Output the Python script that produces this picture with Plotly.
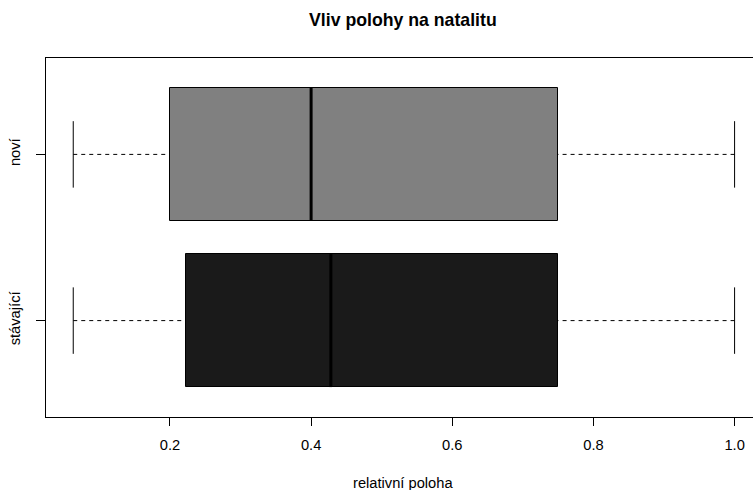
import plotly.graph_objects as go

# Five-number summaries of relative position by group
groups = ["stávající", "noví"]
positions = [1, 2]
lower_whisker = [0.063, 0.063]
q1 = [0.2227, 0.2]
median = [0.428, 0.4]
q3 = [0.75, 0.75]
upper_whisker = [1.0, 1.0]
fill_colors = ["#1a1a1a", "#808080"]

x_ticks = [0.2, 0.4, 0.6, 0.8, 1.0]
x_tick_text = ["0.2", "0.4", "0.6", "0.8", "1.0"]

box_width = 0.8
staple_half = box_width / 4
font_family = "Liberation Sans, Arial, sans-serif"

fig = go.Figure()

# Boxes (Q1..Q3)
fig.add_trace(go.Bar(
    y=positions,
    x=[b - a for a, b in zip(q1, q3)],
    base=q1,
    orientation="h",
    width=box_width,
    marker=dict(color=fill_colors, line=dict(color="black", width=1)),
    hoverinfo="skip",
    showlegend=False,
))

for i, pos in enumerate(positions):
    # dashed whiskers, drawn from the staple toward the box
    for a, b in [(lower_whisker[i], q1[i]), (upper_whisker[i], q3[i])]:
        fig.add_trace(go.Scatter(
            x=[a, b], y=[pos, pos], mode="lines",
            line=dict(color="black", width=1, dash="4px,4px"),
            hoverinfo="skip", showlegend=False,
        ))
    # staples
    for w in [lower_whisker[i], upper_whisker[i]]:
        fig.add_trace(go.Scatter(
            x=[w, w], y=[pos - staple_half, pos + staple_half], mode="lines",
            line=dict(color="black", width=1),
            hoverinfo="skip", showlegend=False,
        ))
    # median
    fig.add_trace(go.Scatter(
        x=[median[i], median[i]],
        y=[pos - box_width / 2, pos + box_width / 2], mode="lines",
        line=dict(color="black", width=3),
        hoverinfo="skip", showlegend=False,
    ))

fig.update_layout(
    width=753, height=490,
    margin=dict(l=46, r=0, t=58, b=73),
    paper_bgcolor="white", plot_bgcolor="white",
    font=dict(family=font_family, size=14.7, color="black"),
    bargap=0,
    annotations=[
        dict(text="<b>Vliv polohy na natalitu</b>", xref="paper", yref="paper",
             x=0.505, y=1 + 38 / 359, xanchor="center", yanchor="middle",
             showarrow=False, font=dict(size=17.7, family=font_family)),
        dict(text="relativní poloha", xref="paper", yref="paper",
             x=0.505, y=-66 / 359, xanchor="center", yanchor="middle",
             showarrow=False, font=dict(size=14.7, family=font_family)),
    ],
)

fig.update_xaxes(
    range=[0.0244, 1.0261],
    tickvals=x_ticks, ticktext=x_tick_text,
    showgrid=False, zeroline=False,
    showline=True, linecolor="black", linewidth=1, mirror=True,
    ticks="outside", ticklen=8, tickcolor="black",
    ticklabelstandoff=6,
)
fig.update_yaxes(
    range=[0.42, 2.58],
    tickvals=positions, ticktext=groups, tickangle=-90,
    showgrid=False, zeroline=False,
    showline=True, linecolor="black", linewidth=1, mirror=False,
    ticks="outside", ticklen=9, tickcolor="black",
    ticklabelstandoff=10,
)

fig.write_html("out.html")
